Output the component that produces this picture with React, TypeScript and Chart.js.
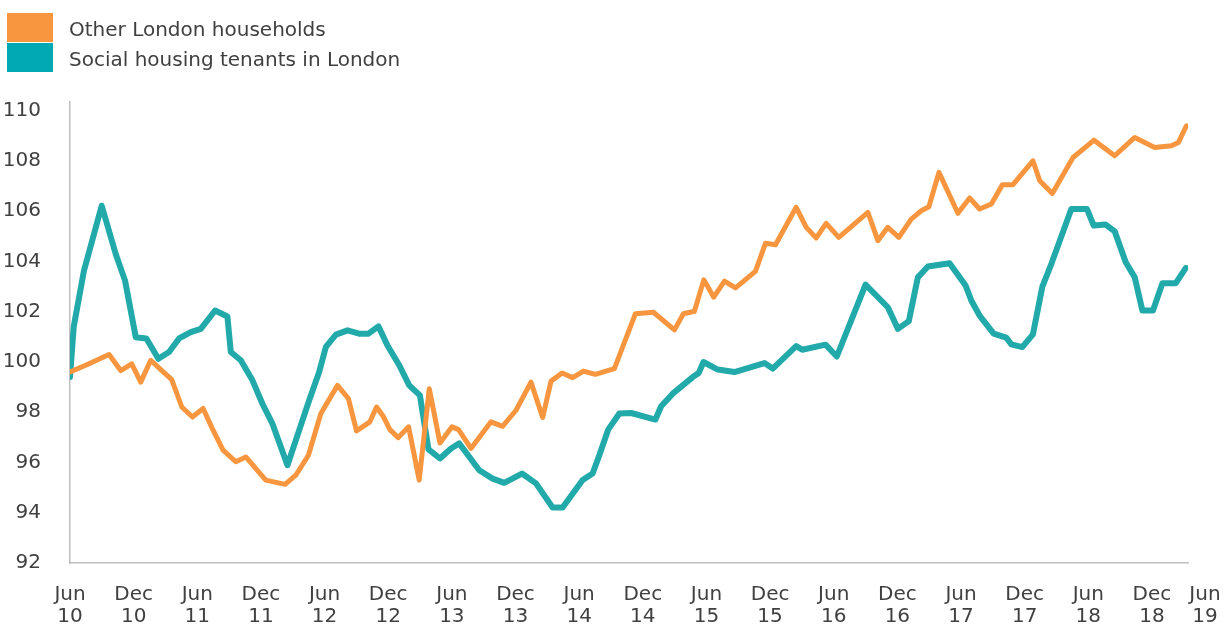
import React, { useEffect, useRef } from "react";
import { Chart, registerables } from "chart.js";

Chart.register(...registerables);

// Months since June 2010 (x) and index values (y)
const otherMonths = [
  0, 1.48, 3.68, 4.78, 5.82, 6.67, 7.61, 8.56, 9.59, 10.54, 11.54, 12.55, 13.42, 14.43, 15.63, 16.58,
  17.52, 18.46, 20.28, 21.29, 22.48, 23.65, 25.22, 26.25, 27.01, 28.27, 28.9, 29.53, 30.16, 30.94,
  31.92, 32.92, 33.87, 34.88, 36.01, 36.63, 37.8, 39.69, 40.78, 42.05, 43.46, 44.56, 45.35, 46.39,
  47.39, 48.4, 49.53, 51.32, 53.3, 55.0, 56.98, 57.83, 58.87, 59.75, 60.69, 61.7, 62.74, 64.62, 65.57,
  66.51, 68.46, 69.41, 70.35, 71.29, 72.48, 75.22, 76.16, 77.1, 78.14, 79.31, 80.25, 80.97, 81.92,
  83.71, 84.81, 85.75, 86.86, 87.9, 88.9, 90.78, 91.42, 92.61, 94.56, 96.54, 98.49, 100.38, 102.26,
  103.84, 104.5, 105.25,
];
const otherValues = [
  99.6, 99.87, 100.3, 99.66, 99.93, 99.2, 100.07, 99.7, 99.3, 98.21, 97.81, 98.15, 97.35, 96.49, 96.03, 96.22,
  95.76, 95.3, 95.13, 95.5, 96.29, 97.95, 99.07, 98.54, 97.26, 97.62, 98.21, 97.84, 97.31, 96.99,
  97.42, 95.3, 98.94, 96.78, 97.42, 97.31, 96.56, 97.62, 97.44, 98.08, 99.2, 97.79, 99.24, 99.56,
  99.38, 99.64, 99.51, 99.74, 101.92, 101.98, 101.28, 101.92, 102.02, 103.27, 102.58, 103.22, 102.95, 103.61, 104.73,
  104.67, 106.16, 105.36, 104.94, 105.52, 104.96, 105.96, 104.83, 105.36, 104.96, 105.69, 106.02, 106.18, 107.55,
  105.92, 106.53, 106.09, 106.29, 107.06, 107.06, 108.01, 107.22, 106.71, 108.14, 108.83, 108.21, 108.94, 108.54,
  108.61, 108.74, 109.4,
];

const socialMonths = [
  0, 0.35, 1.32, 2.99, 4.31, 5.19, 6.2, 7.2, 8.33, 9.34, 10.28, 11.39, 12.33, 13.68, 14.84, 15.16,
  16.1, 17.2, 18.14, 19.08, 20.5, 21.6, 22.55, 23.49, 24.12, 25.07, 26.16, 27.26, 28.14, 29.08, 29.93,
  31.04, 31.98, 32.99, 33.8, 34.88, 35.92, 36.7, 38.58, 39.84, 40.94, 42.61, 43.93, 45.5, 46.44,
  48.33, 49.27, 49.91, 50.75, 51.79, 52.9, 55.19, 55.73, 56.82, 58.71, 59.27, 59.72, 61.07, 62.64,
  65.47, 66.25, 68.46, 69.03, 71.23, 72.29, 75.0, 77.1, 78.05, 79.08, 79.93, 80.88, 82.92, 84.43,
  84.97, 85.75, 87.08, 88.27, 88.75, 89.78, 90.78, 91.67, 92.52, 94.4, 95.88, 96.51, 97.64, 98.49,
  99.53, 100.38, 101.1, 102.1, 102.99, 104.25, 105.2,
];
const socialValues = [
  99.4, 101.4, 103.64, 106.22, 104.3, 103.24, 100.99, 100.94, 100.13, 100.4, 100.94, 101.19, 101.32, 102.05, 101.81, 100.4,
  100.07, 99.27, 98.34, 97.55, 95.89, 97.28, 98.48, 99.6, 100.6, 101.09, 101.26, 101.13, 101.13, 101.42, 100.66,
  99.87, 99.07, 98.67, 96.52, 96.16, 96.56, 96.76, 95.69, 95.36, 95.19, 95.56, 95.17, 94.21, 94.21,
  95.3, 95.56, 96.3, 97.32, 97.95, 97.97, 97.71, 98.24, 98.74, 99.4, 99.56, 100.0, 99.7, 99.6,
  99.96, 99.74, 100.63, 100.49, 100.69, 100.22, 103.08, 102.18, 101.32, 101.63, 103.37, 103.8, 103.93, 103.05,
  102.45, 101.85, 101.13, 100.97, 100.7, 100.59, 101.1, 103.0, 103.91, 106.09, 106.09, 105.43, 105.47, 105.2,
  103.97, 103.37, 102.05, 102.05, 103.14, 103.14, 103.75,
];

const seriesNames = ["Other London households", "Social housing tenants in London"];
const lineColors = ["#F7963F", "#22A9AA"];
const legendColors = ["#F7963F", "#00A9B4"];

const xTickMonths = [0, 6, 12, 18, 24, 30, 36, 42, 48, 54, 60, 66, 72, 78, 84, 90, 96, 102, 107];
const xTickLabels = [
  ["Jun", "10"], ["Dec", "10"], ["Jun", "11"], ["Dec", "11"], ["Jun", "12"], ["Dec", "12"],
  ["Jun", "13"], ["Dec", "13"], ["Jun", "14"], ["Dec", "14"], ["Jun", "15"], ["Dec", "15"],
  ["Jun", "16"], ["Dec", "16"], ["Jun", "17"], ["Dec", "17"], ["Jun", "18"], ["Dec", "18"],
  ["Jun", "19"],
];
const yMin = 92;
const yMax = 110.35;
const yStep = 2;

const FONT = "'DejaVu Sans', sans-serif";
const TEXT = "#404040";

export default function App() {
  const canvasRef = useRef<HTMLCanvasElement | null>(null);

  useEffect(() => {
    document.body.style.margin = "0";
    const canvas = canvasRef.current;
    if (!canvas) return;
    const chart = new Chart(canvas, {
      type: "line",
      data: {
        datasets: [
          {
            label: seriesNames[0],
            data: otherMonths.map((m, i) => ({ x: m, y: otherValues[i] })),
            borderColor: lineColors[0],
            backgroundColor: lineColors[0],
            borderWidth: 5,
            pointRadius: 0,
            tension: 0,
            borderJoinStyle: "round",
            borderCapStyle: "round",
          },
          {
            label: seriesNames[1],
            data: socialMonths.map((m, i) => ({ x: m, y: socialValues[i] })),
            borderColor: lineColors[1],
            backgroundColor: lineColors[1],
            borderWidth: 6,
            pointRadius: 0,
            tension: 0,
            borderJoinStyle: "round",
            borderCapStyle: "round",
          },
        ],
      },
      options: {
        animation: false,
        responsive: false,
        devicePixelRatio: 1,
        layout: { padding: { left: 0, right: 42, top: 102, bottom: 0 } },
        plugins: {
          legend: { display: false },
          tooltip: { enabled: false },
        },
        scales: {
          x: {
            type: "linear",
            min: 0,
            max: 105.4,
            grid: { display: false, drawTicks: false },
            border: { display: true, color: "#BFBFBF", width: 1.5 },
            afterBuildTicks: (scale: any) => {
              scale.ticks = xTickMonths.map((v) => ({ value: v }));
            },
            afterFit: (scale: any) => {
              scale.height = 62;
              scale.paddingLeft = 0;
              scale.paddingRight = 0;
            },
            ticks: {
              autoSkip: false,
              maxRotation: 0,
              minRotation: 0,
              padding: 20,
              color: TEXT,
              font: { family: FONT, size: 20, lineHeight: 1.13 },
              callback: (_v: any, i: number) => xTickLabels[i],
            },
          },
          y: {
            min: yMin,
            max: yMax,
            grid: { display: false, drawTicks: false },
            border: { display: true, color: "#BFBFBF", width: 1.5 },
            afterFit: (scale: any) => {
              scale.width = 70;
              scale.paddingTop = 0;
              scale.paddingBottom = 0;
            },
            ticks: {
              stepSize: yStep,
              includeBounds: false,
              padding: 29,
              color: TEXT,
              font: { family: FONT, size: 20 },
            },
          },
        },
      },
    });
    return () => chart.destroy();
  }, []);

  const legendItem = (i: number, top: number) => (
    <div key={i}>
      <div
        style={{
          position: "absolute",
          left: 7,
          top,
          width: 46,
          height: 29,
          background: legendColors[i],
        }}
      />
      <div
        style={{
          position: "absolute",
          left: 69,
          top: top + 2,
          height: 29,
          lineHeight: "29px",
          fontFamily: FONT,
          fontSize: 20,
          color: TEXT,
          whiteSpace: "nowrap",
        }}
      >
        {seriesNames[i]}
      </div>
    </div>
  );

  return (
    <div style={{ position: "relative", width: 1230, height: 625, background: "#fff" }}>
      <canvas
        ref={canvasRef}
        width={1230}
        height={625}
        style={{ position: "absolute", left: 0, top: 0, width: 1230, height: 625 }}
      />
      {legendItem(0, 13)}
      {legendItem(1, 43)}
    </div>
  );
}
